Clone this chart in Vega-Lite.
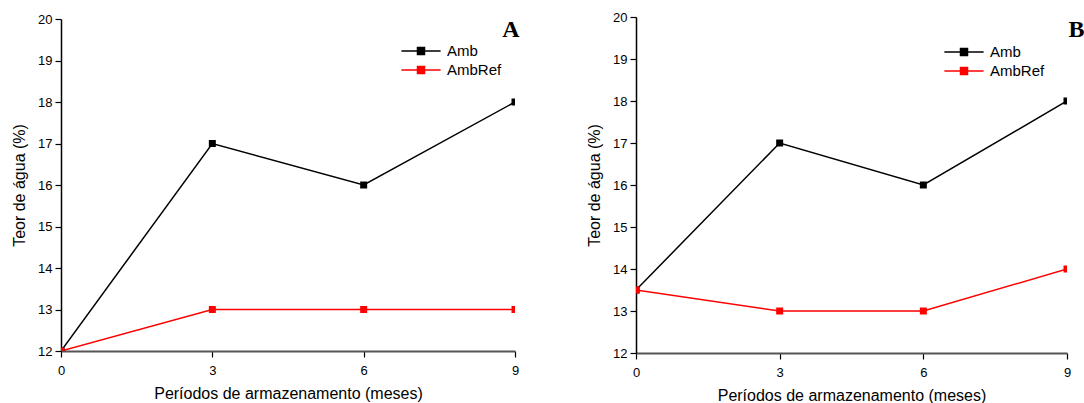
{
  "$schema": "https://vega.github.io/schema/vega-lite/v6.json",
  "padding": {"left": 11, "top": 11, "right": 0, "bottom": 0},
  "spacing": 66,
  "center": true,
  "background": "white",
  "config": {
    "view": {"stroke": null},
    "font": "Liberation Sans",
    "axis": {
      "labelFont": "Liberation Sans", "titleFont": "Liberation Sans",
      "labelFontSize": 13, "titleFontSize": 16, "titleFontWeight": "normal",
      "labelColor": "#000", "titleColor": "#000", "grid": false,
      "tickSize": 6, "tickColor": "#000", "tickWidth": 1.2,
      "domainColor": "#000", "domainWidth": 1.5, "labelPadding": 3
    },
    "axisX": {"domainColor": "#555", "domainWidth": 2, "labelPadding": 7, "titlePadding": 8, "titleFontSize": 16, "labelFlush": false},
    "axisY": {"titlePadding": 10},
    "legend": {
      "orient": "none", "title": null,
      "labelFont": "Liberation Sans", "labelFontSize": 15, "labelColor": "#000",
      "symbolType": "M-2.8,0H2.8M-0.5,-0.5H0.5V0.5H-0.5Z",
      "symbolSize": 196, "symbolStrokeWidth": 1.5,
      "rowPadding": 3, "labelOffset": 18
    },
    "title": {"font": "Liberation Serif", "fontSize": 24, "fontWeight": "bold", "anchor": "end", "baseline": "alphabetic", "color": "#000"}
  },
  "resolve": {"scale": {"color": "independent"}, "legend": {"color": "independent"}},
  "hconcat": [
    {
      "width": 454, "height": 332,
      "title": {"text": "A", "offset": -29, "dx": 1},
      "data": {"values": [
        {"serie": "Amb", "mes": 0, "teor": 12},
        {"serie": "Amb", "mes": 3, "teor": 17},
        {"serie": "Amb", "mes": 6, "teor": 16},
        {"serie": "Amb", "mes": 9, "teor": 18},
        {"serie": "AmbRef", "mes": 0, "teor": 12},
        {"serie": "AmbRef", "mes": 3, "teor": 13},
        {"serie": "AmbRef", "mes": 6, "teor": 13},
        {"serie": "AmbRef", "mes": 9, "teor": 13}
      ]},
      "encoding": {
        "x": {"field": "mes", "type": "quantitative", "scale": {"domain": [0, 9], "nice": false}, "axis": {"values": [0, 3, 6, 9], "title": "Períodos de armazenamento (meses)"}},
        "y": {"field": "teor", "type": "quantitative", "scale": {"domain": [12, 20], "nice": false, "zero": false}, "axis": {"values": [12, 13, 14, 15, 16, 17, 18, 19, 20], "title": "Teor de água (%)"}},
        "color": {"field": "serie", "type": "nominal", "scale": {"domain": ["Amb", "AmbRef"], "range": ["#000000", "#ff0000"]},
          "legend": {"legendX": 352, "legendY": 24,
            "encode": {"symbols": {"update": {"fill": {"signal": "datum.value === 'Amb' ? '#000000' : '#ff0000'"}, "stroke": {"signal": "datum.value === 'Amb' ? '#000000' : '#ff0000'"}}}}}}
      },
      "layer": [
        {"mark": {"type": "line", "strokeWidth": 1.5, "clip": true}},
        {"mark": {"type": "point", "shape": "square", "filled": true, "size": 49, "opacity": 1, "clip": true}}
      ]
    },
    {
      "width": 431, "height": 336,
      "title": {"text": "B", "offset": -31, "dx": 14},
      "data": {"values": [
        {"serie": "Amb", "mes": 0, "teor": 13.5},
        {"serie": "Amb", "mes": 3, "teor": 17},
        {"serie": "Amb", "mes": 6, "teor": 16},
        {"serie": "Amb", "mes": 9, "teor": 18},
        {"serie": "AmbRef", "mes": 0, "teor": 13.5},
        {"serie": "AmbRef", "mes": 3, "teor": 13},
        {"serie": "AmbRef", "mes": 6, "teor": 13},
        {"serie": "AmbRef", "mes": 9, "teor": 14}
      ]},
      "encoding": {
        "x": {"field": "mes", "type": "quantitative", "scale": {"domain": [0, 9], "nice": false}, "axis": {"values": [0, 3, 6, 9], "title": "Períodos de armazenamento (meses)"}},
        "y": {"field": "teor", "type": "quantitative", "scale": {"domain": [12, 20], "nice": false, "zero": false}, "axis": {"values": [12, 13, 14, 15, 16, 17, 18, 19, 20], "title": "Teor de água (%)"}},
        "color": {"field": "serie", "type": "nominal", "scale": {"domain": ["Amb", "AmbRef"], "range": ["#000000", "#ff0000"]},
          "legend": {"legendX": 320, "legendY": 27,
            "encode": {"symbols": {"update": {"fill": {"signal": "datum.value === 'Amb' ? '#000000' : '#ff0000'"}, "stroke": {"signal": "datum.value === 'Amb' ? '#000000' : '#ff0000'"}}}}}}
      },
      "layer": [
        {"mark": {"type": "line", "strokeWidth": 1.5, "clip": true}},
        {"mark": {"type": "point", "shape": "square", "filled": true, "size": 49, "opacity": 1, "clip": true}}
      ]
    }
  ]
}
